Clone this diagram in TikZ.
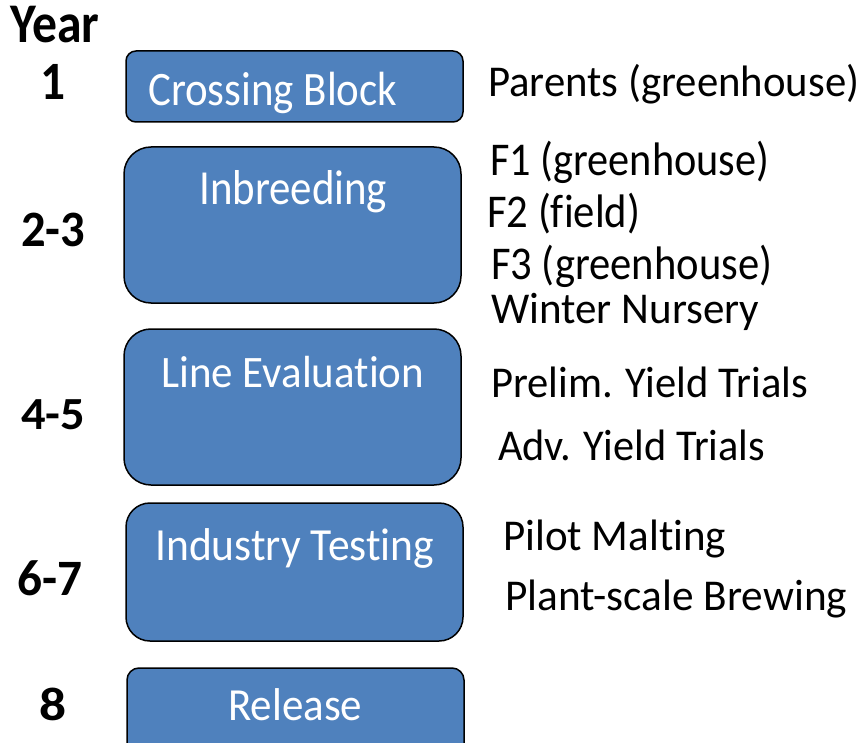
\documentclass[tikz,border=0pt]{standalone}
\usepackage{fontspec}
\setmainfont[Ligatures=NoCommon]{Carlito}
\usepackage{graphicx}
\definecolor{boxblue}{HTML}{4F81BD}
\newlength\lblwd
\newcommand\fitlbl[3]{\settowidth\lblwd{\fontsize{#2}{#2}\selectfont #3}\pgfmathsetmacro\lblsx{#1/\lblwd}\scalebox{\lblsx}[1]{\fontsize{#2}{#2}\selectfont #3}}
\begin{document}
\begin{tikzpicture}[x=1pt,y=-1pt,
  box/.style={draw=black, line width=1.5pt, fill=boxblue, rectangle, rounded corners=#1, inner sep=0pt, minimum width=337pt},
  box/.default=25pt,
  rlbl/.style={anchor=base west, inner sep=0pt, text=black},
  blbl/.style={anchor=base west, inner sep=0pt, text=white},
  ylbl/.style={anchor=base west, inner sep=0pt, text=black, font=\bfseries}]
\useasboundingbox (0,0) rectangle (861,743);
\clip (0,0) rectangle (861,743);
% boxes
\node[box=10pt, minimum height=71pt] (cb) at (294.5,86.5) {};
\node[box=27pt, minimum height=156pt] (ib) at (292.5,225) {};
\node[box=27pt, minimum height=156pt] (le) at (292.5,407) {};
\node[box=24pt, minimum height=138pt] (it) at (294.5,572) {};
\node[box=12pt, minimum height=92pt] (rl) at (295.5,714) {};
% box texts
\node[blbl] (tcb) at (148,106) {\fitlbl{249}{48}{Crossing Block}};
\node[blbl] (tib) at (199,205) {\fitlbl{188}{49}{Inbreeding}};
\node[blbl] (tle) at (161,387) {\fitlbl{263}{45}{Line Evaluation}};
\node[blbl] (tit) at (155,560) {\fitlbl{279}{46}{Industry Testing}};
\node[blbl] (trl) at (228,720) {\fitlbl{134}{46}{Release}};
% year labels
\node[ylbl] (yy) at (10,43) {\fitlbl{89}{56}{\bfseries Year}};
\node[ylbl] (y1) at (40,100) {\fitlbl{25}{54}{\bfseries 1}};
\node[ylbl] (y23) at (21,246) {\fitlbl{64}{51}{\bfseries 2-3}};
\node[ylbl] (y45) at (21,429) {\fitlbl{64}{46}{\bfseries 4-5}};
\node[ylbl] (y67) at (17,595) {\fitlbl{65}{51}{\bfseries 6-7}};
\node[ylbl] (y8) at (39,720) {\fitlbl{27}{47}{\bfseries 8}};
% right labels
\node[rlbl] (r1) at (488,97) {\fitlbl{371}{44}{Parents (greenhouse)}};
\node[rlbl] (r2) at (490,176) {\fitlbl{279}{47}{F1 (greenhouse)}};
\node[rlbl] (r3) at (487,228) {\fitlbl{153}{47}{F2 (field)}};
\node[rlbl] (r4) at (491,279) {\fitlbl{281}{47}{F3 (greenhouse)}};
\node[rlbl] (r5) at (491,323) {\fitlbl{268}{44}{Winter Nursery}};
\node[rlbl] (r6) at (491,397) {\fitlbl{317}{44}{Prelim. Yield Trials}};
\node[rlbl] (r7) at (498,460) {\fitlbl{267}{44}{Adv. Yield Trials}};
\node[rlbl] (r8) at (503,550) {\fitlbl{223}{44}{Pilot Malting}};
\node[rlbl] (r9) at (505,610) {\fitlbl{342}{44}{Plant-scale Brewing}};
\end{tikzpicture}
\end{document}
